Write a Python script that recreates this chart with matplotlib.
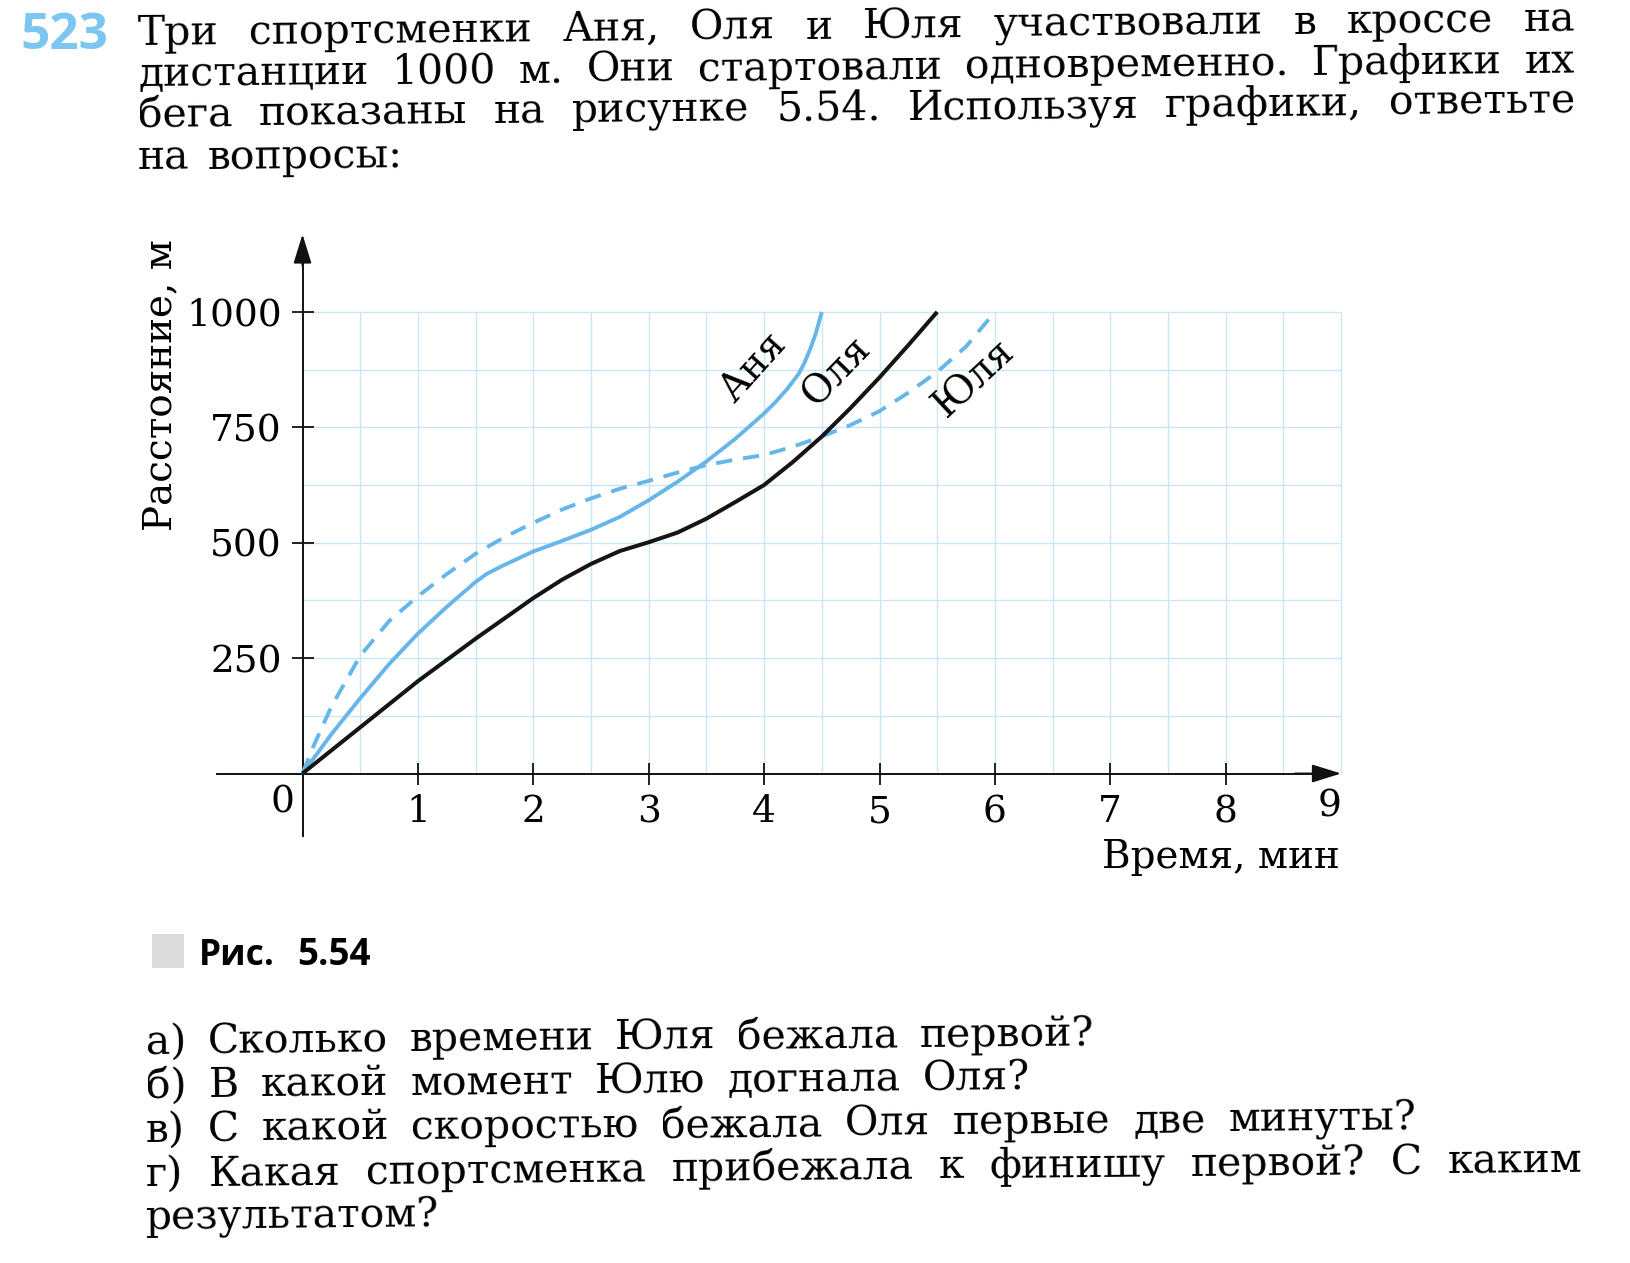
import matplotlib
matplotlib.use("Agg")
import matplotlib.pyplot as plt
from matplotlib.patches import Rectangle
import math

# ---------------- data ----------------
anya_t = [0, 0.25, 0.5, 0.75, 1.0, 1.25, 1.5, 1.6, 1.75, 2.0, 2.25, 2.5, 2.75, 3.0,
          3.25, 3.5, 3.75, 4.0, 4.1, 4.2, 4.3, 4.35, 4.4, 4.45, 4.5]
anya_d = [0, 85, 163, 237, 303, 361, 415, 433, 452, 481, 504, 528, 556, 592,
          632, 676, 725, 780, 805, 833, 866, 890, 920, 955, 1000]

olya_t = [0, 0.5, 1.0, 1.5, 2.0, 2.25, 2.5, 2.75, 3.0, 3.25, 3.5, 3.75, 4.0,
          4.25, 4.5, 4.75, 5.0, 5.25, 5.5]
olya_d = [0, 100, 200, 292, 380, 420, 454, 482, 501, 522, 552, 588, 625,
          675, 730, 792, 858, 928, 1000]

yulya_t = [0, 0.1, 0.25, 0.5, 0.75, 1.0, 1.25, 1.5, 1.75, 2.0, 2.25, 2.5, 2.75,
           3.0, 3.25, 3.5, 3.75, 4.0, 4.25, 4.5, 4.75, 5.0, 5.25, 5.5, 5.75, 6.0]
yulya_d = [0, 62, 145, 255, 330, 384, 432, 476, 512, 543, 572, 596, 617,
           634, 652, 668, 680, 690, 708, 730, 755, 785, 825, 870, 925, 1000]

x_ticks = [1, 2, 3, 4, 5, 6, 7, 8]
x_tick_labels = ["1", "2", "3", "4", "5", "6", "7", "8"]
y_ticks = [250, 500, 750, 1000]
y_tick_labels = ["250", "500", "750", "1000"]
grid_x = [0.5, 1, 1.5, 2, 2.5, 3, 3.5, 4, 4.5, 5, 5.5, 6, 6.5, 7, 7.5, 8, 8.5, 9]
grid_y = [125, 250, 375, 500, 625, 750, 875, 1000]

header_lines = [
    "Три спортсменки Аня, Оля и Юля участвовали в кроссе на",
    "дистанции 1000 м. Они стартовали одновременно. Графики их",
    "бега показаны на рисунке 5.54. Используя графики, ответьте",
    "на вопросы:",
]
question_lines = [
    "а) Сколько времени Юля бежала первой?",
    "б) В какой момент Юлю догнала Оля?",
    "в) С какой скоростью бежала Оля первые две минуты?",
    "г) Какая спортсменка прибежала к финишу первой? С каким",
    "результатом?",
]

# ---------------- figure ----------------
W, H = 1630, 1263
plt.rcParams["font.family"] = ["DejaVu Serif"]
fig = plt.figure(figsize=(W / 100, H / 100), dpi=100)
fig.patch.set_facecolor("white")

BLUE = "#66b6ea"
GRID = "#c8e6f6"
SERIF = ["DejaVu Serif"]
SANS = ["Open Sans", "DejaVu Sans"]
TILT = 0.55  # scan tilt, degrees


def px(x, y):
    return x / W, 1 - y / H


renderer = fig.canvas.get_renderer()


def place_words(line, x0, x1, y, size):
    words = line.split()
    texts = [fig.text(*px(x0, y), w, fontsize=size, family=SERIF,
                      ha="left", va="baseline", rotation=0,
                      rotation_mode="anchor") for w in words]
    widths = [t.get_window_extent(renderer).width for t in texts]
    if x1 is None or len(words) == 1:
        gap = 0.45 * size * 100 / 72
    else:
        gap = (x1 - x0 - sum(widths)) / (len(words) - 1)
    x = x0
    k = math.tan(math.radians(TILT))
    for t, w in zip(texts, widths):
        t.set_rotation(TILT)
        t.set_position(px(x, y - (x - x0) * k))
        x += w + gap


# number "523"
fig.text(*px(20, 49), "523", fontsize=37, family=SANS, fontweight="bold",
         color="#7cc6f2", ha="left", va="baseline")

header_right = [1575, 1575, 1575, 403]
header_base = [45, 86, 127, 170]
for line, xr, yb in zip(header_lines, header_right, header_base):
    place_words(line, 138, xr, yb, 29.5)

q_right = [1094, 1030, 1416, 1582, None]
q_base = [1054, 1098, 1142, 1186, 1230]
for line, xr, yb in zip(question_lines, q_right, q_base):
    place_words(line, 146, xr, yb, 29.5)

# caption
fig.patches.append(Rectangle(px(152, 968), 32 / W, 34 / H, transform=fig.transFigure,
                             facecolor="#dcdcdc", edgecolor="none"))
fig.text(*px(199, 965), "Рис.", fontsize=25.5, family=SANS, fontweight="bold",
         ha="left", va="baseline")
fig.text(*px(297, 965), "5.54", fontsize=26.5, family=SANS, fontweight="bold",
         ha="left", va="baseline")

# ---------------- axes ----------------
X0, Y0, S = 302.5, 773.5, 115.4  # origin px, px per minute
SY = S / 250.0
xmin, xmax, ymin, ymax = -0.8, 9.3, -150, 1180
left = X0 + xmin * S
right = X0 + xmax * S
top = Y0 - ymax * SY
bottom = Y0 - ymin * SY
ax = fig.add_axes([left / W, 1 - bottom / H, (right - left) / W, (bottom - top) / H])
ax.set_xlim(xmin, xmax)
ax.set_ylim(ymin, ymax)
ax.patch.set_alpha(0)
for s in ("top", "right"):
    ax.spines[s].set_visible(False)
ax.spines["left"].set_position(("data", 0))
ax.spines["bottom"].set_position(("data", 0))
ax.spines["left"].set_bounds(-135, 1150)
ax.spines["bottom"].set_bounds(-0.74, 8.9)
for s in ("left", "bottom"):
    ax.spines[s].set_linewidth(1.4)
    ax.spines[s].set_color("#111111")

ax.set_xticks(x_ticks)
ax.set_xticklabels(x_tick_labels, fontsize=27)
ax.set_yticks(y_ticks)
ax.set_yticklabels(y_tick_labels, fontsize=27)
ax.tick_params(axis="both", direction="inout", length=16, width=1.3, color="#111111")
ax.tick_params(axis="x", pad=7)
ax.tick_params(axis="y", pad=7)

ax.text(-0.17, -62, "0", fontsize=27, ha="center", va="center")
ax.text(8.9, -72, "9", fontsize=27, ha="center", va="center")

arrow = dict(arrowstyle="-|>,head_length=0.9,head_width=0.28", fc="#111111",
             ec="#111111", lw=1.4, mutation_scale=20, shrinkA=0, shrinkB=0)
ax.annotate("", xy=(9.0, 0), xytext=(8.6, 0), arrowprops=arrow)
ax.annotate("", xy=(0, 1168), xytext=(0, 1100), arrowprops=arrow)

# grid
ax.vlines(grid_x, 0, 1000, colors=GRID, linewidth=1.0, zorder=0)
ax.hlines(grid_y, 0, 9, colors=GRID, linewidth=1.0, zorder=0)

# curves
ax.plot(anya_t, anya_d, color=BLUE, lw=2.8, solid_capstyle="butt",
        solid_joinstyle="round", zorder=3)
ax.plot(olya_t, olya_d, color="#151515", lw=2.9, solid_capstyle="butt",
        solid_joinstyle="round", zorder=4)
ax.plot(yulya_t, yulya_d, color=BLUE, lw=2.8, dashes=(4.2, 2.8), zorder=3)

ax.text(3.91, 880, "Аня", fontsize=28, rotation=48, ha="center", va="center")
ax.text(4.63, 872, "Оля", fontsize=28, rotation=46, ha="center", va="center")
ax.text(5.82, 855, "Юля", fontsize=28, rotation=43, ha="center", va="center")

fig.text(*px(161, 385), "Расстояние, м", fontsize=28, rotation=90,
         ha="center", va="center")
fig.text(*px(1340, 858), "Время, мин", fontsize=28, ha="right", va="center")

fig.savefig("out.png", dpi=100, facecolor="white")
